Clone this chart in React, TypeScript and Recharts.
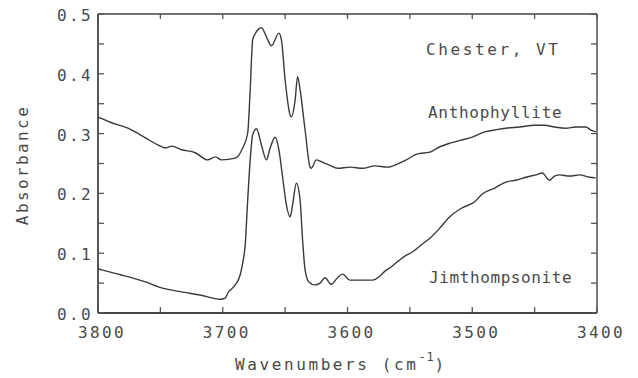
import React from 'react';
import { LineChart, Line, XAxis, YAxis, Customized } from 'recharts';

// Infrared OH-stretching spectra, Chester, VT
const anthoWavenumbers = [
  3800, 3798, 3790, 3776, 3762, 3752, 3746, 3741, 3733, 3722, 3712, 3706, 3701, 3690,
  3684, 3680, 3678, 3676, 3674, 3669, 3665, 3661, 3655, 3653, 3650, 3646, 3645, 3642,
  3640, 3638, 3634, 3630, 3629, 3625, 3619, 3614, 3608, 3598, 3588, 3578, 3568, 3558,
  3553, 3544, 3534, 3526, 3518, 3509, 3500, 3490, 3482, 3473, 3462, 3450, 3442, 3434,
  3425, 3417, 3409, 3405, 3401,
];
const anthoAbsorbance = [
  0.327, 0.326, 0.319, 0.309, 0.293, 0.281, 0.276, 0.279, 0.273, 0.268, 0.256, 0.261, 0.256, 0.259,
  0.276, 0.301, 0.373, 0.457, 0.467, 0.477, 0.462, 0.447, 0.468, 0.457, 0.39, 0.331, 0.328, 0.356,
  0.395, 0.373, 0.306, 0.244, 0.242, 0.256, 0.251, 0.247, 0.242, 0.244, 0.242, 0.246, 0.244, 0.251,
  0.256, 0.266, 0.269, 0.278, 0.284, 0.289, 0.294, 0.303, 0.306, 0.309, 0.311, 0.314, 0.314, 0.311,
  0.309, 0.311, 0.311, 0.306, 0.303,
];

const jimWavenumbers = [
  3800, 3797, 3782, 3762, 3749, 3732, 3718, 3702, 3698, 3696, 3690, 3686, 3684, 3682,
  3680, 3678, 3676, 3673, 3669, 3665, 3662, 3658, 3655, 3652, 3649, 3646, 3644, 3641,
  3638, 3636, 3634, 3631, 3626, 3622, 3618, 3613, 3608, 3604, 3598, 3593, 3586, 3580,
  3574, 3570, 3565, 3561, 3554, 3548, 3542, 3534, 3526, 3518, 3508, 3498, 3492, 3482,
  3473, 3465, 3457, 3449, 3444, 3438, 3434, 3430, 3422, 3414, 3406, 3401,
];
const jimAbsorbance = [
  0.074, 0.072, 0.064, 0.052, 0.042, 0.035, 0.03, 0.023, 0.025, 0.033, 0.047, 0.064, 0.084, 0.114,
  0.189, 0.256, 0.298, 0.308, 0.281, 0.256, 0.276, 0.294, 0.273, 0.227, 0.181, 0.161, 0.181, 0.217,
  0.189, 0.122, 0.072, 0.052, 0.047, 0.05, 0.059, 0.048, 0.059, 0.065, 0.055, 0.055, 0.055, 0.055,
  0.062, 0.07, 0.077, 0.084, 0.095, 0.102, 0.112, 0.125, 0.142, 0.161, 0.176, 0.186, 0.199, 0.209,
  0.219, 0.222, 0.227, 0.231, 0.234, 0.222, 0.229, 0.231, 0.229, 0.231, 0.227, 0.226,
];

const xTicks = [3800, 3750, 3700, 3650, 3600, 3550, 3500, 3450, 3400];
const xLabelTicks = [3800, 3700, 3600, 3500, 3400];
const yTicks = [0, 0.05, 0.1, 0.15, 0.2, 0.25, 0.3, 0.35, 0.4, 0.45, 0.5];
const yLabelTicks = [0, 0.1, 0.2, 0.3, 0.4, 0.5];

const anthoData = anthoWavenumbers.map((w, i) => ({ w, a: anthoAbsorbance[i] }));
const jimData = jimWavenumbers.map((w, i) => ({ w, a: jimAbsorbance[i] }));

const FONT = '"DejaVu Sans Mono", monospace';
const TEXT = '#4a4a4a';
const FRAME = '#444';
const TICK = '#555';
const TRACE = '#3a3a3a';

const isLabelled = (v: number, list: number[]) => list.some((t) => Math.abs(t - v) < 1e-6);

const BottomTick = (props: any) => {
  const { x, y, payload } = props;
  const v = payload.value as number;
  return (
    <g>
      <line x1={x} y1={y} x2={x} y2={y - 6} stroke={TICK} strokeWidth={1.3} />
      {isLabelled(v, xLabelTicks) && (
        <text x={x + 4} y={y + 25} textAnchor="middle" fontFamily={FONT} fontSize={16} letterSpacing={2.4} fill={TEXT}>
          {String(v)}
        </text>
      )}
    </g>
  );
};

const TopTick = (props: any) => {
  const { x, y } = props;
  return <line x1={x} y1={y} x2={x} y2={y + 5} stroke={TICK} strokeWidth={1.3} />;
};

const LeftTick = (props: any) => {
  const { x, y, payload } = props;
  const v = payload.value as number;
  return (
    <g>
      <line x1={x} y1={y} x2={x + 6} y2={y} stroke={TICK} strokeWidth={1.3} />
      {isLabelled(v, yLabelTicks) && (
        <text x={x - 5} y={y + 7} textAnchor="end" fontFamily={FONT} fontSize={16} letterSpacing={2.4} fill={TEXT}>
          {v.toFixed(1)}
        </text>
      )}
    </g>
  );
};

const RightTick = (props: any) => {
  const { x, y } = props;
  return <line x1={x} y1={y} x2={x - 6} y2={y} stroke={TICK} strokeWidth={1.3} />;
};

const Annotations = () => (
  <g fontFamily={FONT} fill={TEXT}>
    <text x={426} y={55} fontSize={16} letterSpacing={2.6}>Chester, VT</text>
    <text x={428} y={118} fontSize={16} letterSpacing={0.7}>Anthophyllite</text>
    <text x={429} y={283} fontSize={16} letterSpacing={0.6}>Jimthompsonite</text>
    <text x={235} y={370} fontSize={16} letterSpacing={2.6}>
      Wavenumbers (cm
      <tspan fontSize={12} letterSpacing={0.8} dy={-9}>-1</tspan>
      <tspan fontSize={16} letterSpacing={2.6} dy={9}>)</tspan>
    </text>
    <text
      x={28}
      y={165}
      fontSize={16}
      letterSpacing={2.4}
      textAnchor="middle"
      transform="rotate(-90, 28, 165)"
    >
      Absorbance
    </text>
  </g>
);

export default function App() {
  return (
    <div style={{ position: 'absolute', left: 0, top: 0, width: 638, height: 378 }}>
      <LineChart width={638} height={378} margin={{ top: 0, right: 31, bottom: 0, left: 0 }}>
        <XAxis
          xAxisId="bottom"
          orientation="bottom"
          type="number"
          dataKey="w"
          domain={[3400, 3800]}
          reversed
          allowDataOverflow
          ticks={xTicks}
          interval={0}
          height={65}
          tickSize={0}
          tickMargin={0}
          tickLine={false}
          tick={BottomTick}
          axisLine={{ stroke: FRAME, strokeWidth: 1.8 }}
        />
        <XAxis
          xAxisId="top"
          orientation="top"
          type="number"
          dataKey="w"
          domain={[3400, 3800]}
          reversed
          allowDataOverflow
          ticks={xTicks}
          interval={0}
          height={14}
          tickSize={0}
          tickMargin={0}
          tickLine={false}
          tick={TopTick}
          axisLine={{ stroke: FRAME, strokeWidth: 1.4 }}
        />
        <YAxis
          yAxisId="left"
          orientation="left"
          type="number"
          domain={[0, 0.5]}
          allowDataOverflow
          ticks={yTicks}
          interval={0}
          width={98}
          tickSize={0}
          tickMargin={0}
          tickLine={false}
          tick={LeftTick}
          axisLine={{ stroke: FRAME, strokeWidth: 1.8 }}
        />
        <YAxis
          yAxisId="right"
          orientation="right"
          type="number"
          domain={[0, 0.5]}
          allowDataOverflow
          ticks={yTicks}
          interval={0}
          width={10}
          tickSize={0}
          tickMargin={0}
          tickLine={false}
          tick={RightTick}
          axisLine={{ stroke: FRAME, strokeWidth: 1.4 }}
        />
        <Line
          xAxisId="bottom"
          yAxisId="left"
          data={anthoData}
          dataKey="a"
          type="monotone"
          stroke={TRACE}
          strokeWidth={1.4}
          dot={false}
          isAnimationActive={false}
        />
        <Line
          xAxisId="bottom"
          yAxisId="left"
          data={jimData}
          dataKey="a"
          type="monotone"
          stroke={TRACE}
          strokeWidth={1.4}
          dot={false}
          isAnimationActive={false}
        />
        <Customized component={<Annotations />} />
      </LineChart>
    </div>
  );
}
